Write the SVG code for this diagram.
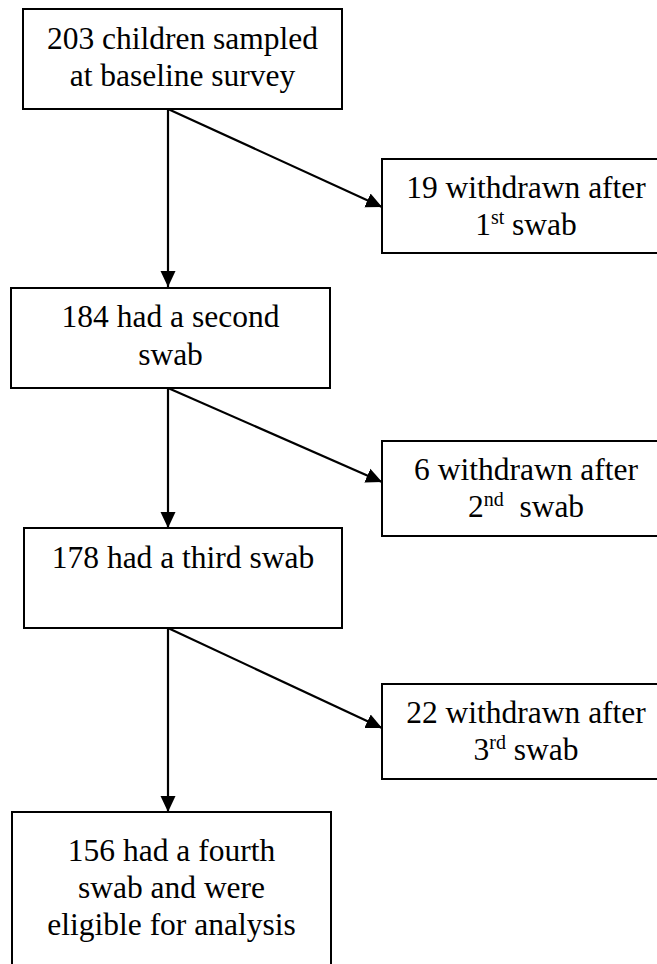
<svg xmlns="http://www.w3.org/2000/svg" width="657" height="964" viewBox="0 0 657 964">
<style>
rect.box{fill:#fff;stroke:#000;stroke-width:2}
text{font-family:'Liberation Serif','Times New Roman',Tinos,'DejaVu Serif',serif;font-size:31.5px;fill:#000;text-anchor:middle;white-space:pre}
tspan.sup{font-size:20px}
.conn line{stroke:#000;stroke-width:2.2}
</style>
<defs>
<marker id="ah" markerUnits="userSpaceOnUse" markerWidth="18" markerHeight="18" refX="16" refY="9" orient="auto">
<path d="M0,1.5 L16,9 L0,16.5 Z" fill="#000"/>
</marker>
</defs>
<rect width="657" height="964" fill="#fff"/>
<g class="conn" id="connectors">
<line x1="168" y1="109" x2="168" y2="287" marker-end="url(#ah)"/>
<line x1="168" y1="109" x2="382" y2="207" marker-end="url(#ah)"/>
<line x1="168" y1="388" x2="168" y2="528" marker-end="url(#ah)"/>
<line x1="168" y1="388" x2="382" y2="482" marker-end="url(#ah)"/>
<line x1="168" y1="628" x2="168" y2="812" marker-end="url(#ah)"/>
<line x1="168" y1="628" x2="382" y2="728" marker-end="url(#ah)"/>
</g>
<g id="n1">
<rect class="box" x="23" y="9" width="319" height="100"/>
<text x="182.5" y="49" font-family="Liberation Serif, serif">203 children sampled</text>
<text x="182.5" y="86" font-family="Liberation Serif, serif">at baseline survey</text>
</g>
<g id="w1">
<rect class="box" x="382" y="159" width="290" height="94"/>
<text x="526" y="198" font-family="Liberation Serif, serif">19 withdrawn after</text>
<text x="526" y="235" font-family="Liberation Serif, serif">1<tspan class="sup" dy="-11">st</tspan><tspan dy="11"> swab</tspan></text>
</g>
<g id="n2">
<rect class="box" x="11" y="288" width="319" height="100"/>
<text x="170.5" y="327" font-family="Liberation Serif, serif">184 had a second</text>
<text x="170.5" y="365" font-family="Liberation Serif, serif">swab</text>
</g>
<g id="w2">
<rect class="box" x="382" y="441" width="290" height="95"/>
<text x="526" y="480" font-family="Liberation Serif, serif">6 withdrawn after</text>
<text x="526" y="517" font-family="Liberation Serif, serif">2<tspan class="sup" dy="-11">nd</tspan><tspan dy="11">  swab</tspan></text>
</g>
<g id="n3">
<rect class="box" x="24" y="528" width="318" height="100"/>
<text x="183" y="568" font-family="Liberation Serif, serif">178 had a third swab</text>
</g>
<g id="w3">
<rect class="box" x="382" y="684" width="290" height="95"/>
<text x="526" y="723" font-family="Liberation Serif, serif">22 withdrawn after</text>
<text x="526" y="760" font-family="Liberation Serif, serif">3<tspan class="sup" dy="-11">rd</tspan><tspan dy="11"> swab</tspan></text>
</g>
<g id="n4">
<rect class="box" x="12" y="812" width="319" height="170"/>
<text x="171.5" y="861" font-family="Liberation Serif, serif">156 had a fourth</text>
<text x="171.5" y="898" font-family="Liberation Serif, serif">swab and were</text>
<text x="171.5" y="935" font-family="Liberation Serif, serif">eligible for analysis</text>
</g>
</svg>
